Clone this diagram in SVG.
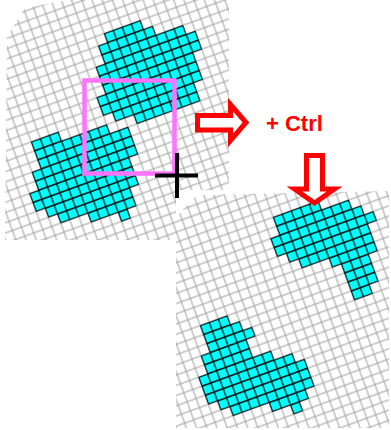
<svg xmlns="http://www.w3.org/2000/svg" width="391" height="430" viewBox="0 0 391 430">
  <style>
    .cy { fill: url(#gc); stroke: #000; stroke-width: 0.06; }
    .arrow { fill: #fff; stroke: #ff0000; stroke-width: 5; stroke-linejoin: miter; stroke-miterlimit: 10; }
    .lbl { font-family: "Liberation Sans", Arial, sans-serif; font-weight: bold; font-size: 22px; fill: #ff0000; }
  </style>
  <defs>
    <pattern id="gw" width="1" height="1" patternUnits="userSpaceOnUse">
      <rect width="1" height="1" fill="#fff" stroke="#a4a4a4" stroke-width="0.11"/>
    </pattern>
    <pattern id="gc" width="1" height="1" patternUnits="userSpaceOnUse">
      <rect width="1" height="1" fill="#00ffff" stroke="#000" stroke-width="0.12"/>
    </pattern>
    <clipPath id="clip1">
      <polygon points="7,37 25,8 68,0 229,0 229,190 176,190 176,240 5,240"/>
    </clipPath>
    <clipPath id="clip2">
      <polygon points="176,217 197,195 389,191 389,428 176,428"/>
    </clipPath>
  </defs>
  <rect width="391" height="430" fill="#fff"/>

  <g id="panel1" clip-path="url(#clip1)">
    <g transform="rotate(-20) scale(9.6)">
      <rect x="-12" y="-2" width="48" height="60" fill="url(#gw)"/>
      <g id="blobA">
        <rect class="cy" x="9" y="7" width="4" height="1"/>
        <rect class="cy" x="8" y="8" width="6" height="1"/>
        <rect class="cy" x="8" y="9" width="9" height="1"/>
        <rect class="cy" x="7" y="10" width="11" height="1"/>
        <rect class="cy" x="7" y="11" width="11" height="1"/>
        <rect class="cy" x="7" y="12" width="10" height="1"/>
        <rect class="cy" x="6" y="13" width="11" height="1"/>
        <rect class="cy" x="6" y="14" width="11" height="1"/>
        <rect class="cy" x="7" y="15" width="9" height="1"/>
        <rect class="cy" x="9" y="16" width="7" height="1"/>
      </g>
      <g id="blobB">
        <rect class="cy" x="-2" y="15" width="3" height="1"/>
        <rect class="cy" x="-2" y="16" width="8" height="1"/>
        <rect class="cy" x="-2" y="17" width="10" height="1"/>
        <rect class="cy" x="-3" y="18" width="11" height="1"/>
        <rect class="cy" x="-3" y="19" width="11" height="1"/>
        <rect class="cy" x="-4" y="20" width="11" height="1"/>
        <rect class="cy" x="-4" y="21" width="11" height="1"/>
        <rect class="cy" x="-3" y="22" width="10" height="1"/>
        <rect class="cy" x="-2" y="23" width="8" height="1"/>
        <rect class="cy" x="1" y="24" width="5" height="1"/>
        <rect class="cy" x="4" y="25" width="1" height="1"/>
      </g>
    </g>
  </g>

  <g id="panel2" clip-path="url(#clip2)">
    <g transform="rotate(-20) scale(9.6)">
      <rect x="-12" y="10" width="56" height="60" fill="url(#gw)"/>
      <g id="blobC">
        <rect class="cy" x="19" y="31" width="5" height="1"/>
        <rect class="cy" x="19" y="32" width="8" height="1"/>
        <rect class="cy" x="18" y="33" width="10" height="1"/>
        <rect class="cy" x="18" y="34" width="11" height="1"/>
        <rect class="cy" x="19" y="35" width="9" height="1"/>
        <rect class="cy" x="20" y="36" width="8" height="1"/>
        <rect class="cy" x="23" y="37" width="5" height="1"/>
        <rect class="cy" x="24" y="38" width="3" height="1"/>
        <rect class="cy" x="24" y="39" width="3" height="1"/>
        <rect class="cy" x="24" y="40" width="3" height="1"/>
        <rect class="cy" x="24" y="41" width="2" height="1"/>
      </g>
      <g id="blobD">
        <rect class="cy" x="8" y="39" width="3" height="1"/>
        <rect class="cy" x="8" y="40" width="4" height="1"/>
        <rect class="cy" x="8" y="41" width="5" height="1"/>
        <rect class="cy" x="7" y="42" width="5" height="1"/>
        <rect class="cy" x="7" y="43" width="5" height="1"/>
        <rect class="cy" x="6" y="44" width="8" height="1"/>
        <rect class="cy" x="6" y="45" width="10" height="1"/>
        <rect class="cy" x="6" y="46" width="11" height="1"/>
        <rect class="cy" x="7" y="47" width="10" height="1"/>
        <rect class="cy" x="8" y="48" width="9" height="1"/>
        <rect class="cy" x="12" y="49" width="4" height="1"/>
        <rect class="cy" x="14" y="50" width="1" height="1"/>
      </g>
    </g>
  </g>

  <g id="selection">
    <rect x="84.5" y="80.5" width="90" height="93" fill="none" stroke="#ff73ff" stroke-width="4.5"/>
  </g>
  <g id="cursor">
    <line x1="177" y1="153" x2="177" y2="198" stroke="#000" stroke-width="4"/>
    <line x1="155" y1="175.5" x2="198" y2="175.5" stroke="#000" stroke-width="4"/>
  </g>

  <g id="connectors">
    <polygon class="arrow" points="197.5,115.5 230.5,115.5 230.5,104.5 246,122.5 230.5,140.5 230.5,130 197.5,130"/>
    <polygon class="arrow" points="306.5,155.5 322.5,155.5 322.5,189 334.5,189 314.5,203 294.5,189 306.5,189"/>
  </g>

  <g id="label">
    <text class="lbl" x="266" y="131">+ Ctrl</text>
  </g>
</svg>
